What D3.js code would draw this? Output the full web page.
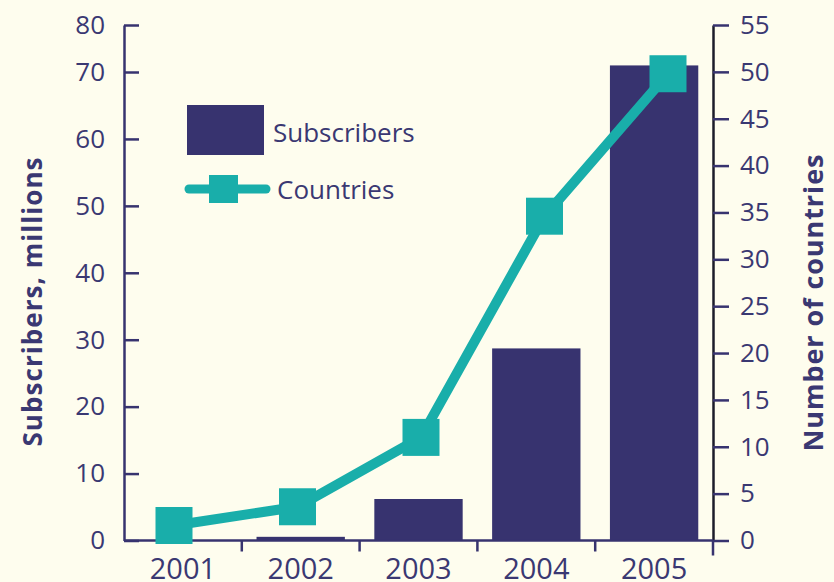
<!DOCTYPE html>
<html>
<head>
<meta charset="utf-8">
<script src="https://cdn.jsdelivr.net/npm/d3@7"></script>
<style>
  body { margin: 0; background: #fefdee; }
  svg { display: block; font-family: "Open Sans", sans-serif; }
</style>
</head>
<body>
<svg id="chart" width="834" height="582"></svg>
<script>
// data
var years = [2001, 2002, 2003, 2004, 2005];
var subscribers = [0, 0.55, 6.2, 28.7, 71.4];   // millions (bars, left axis)
var countries = [1.6, 3.6, 11, 34.6, 49.8];     // number of countries (line, right axis)
var leftTicks = [0, 10, 20, 30, 40, 50, 60, 70, 80];
var rightTicks = [0, 5, 10, 15, 20, 25, 30, 35, 40, 45, 50, 55];

var navy = "#37336f",
    teal = "#19aeaa",
    textCol = "#3a3872";

var svg = d3.select("#chart");

var plotLeft = 124, plotRight = 713, plotBottom = 540.5, plotTop = 25;

var x = d3.scaleBand()
    .domain(years)
    .range([plotLeft, plotRight])
    .paddingInner(0.25)
    .paddingOuter(0.125);

// the line's points don't sit on the band centres in the original
var xLine = d3.scaleLinear().domain([2001, 2005]).range([174, 668]);

// left axis is squeezed between 70 and 80
var yL = d3.scaleLinear().domain([0, 70, 80]).range([plotBottom, 72, plotTop]);
var yR = d3.scaleLinear().domain([0, 55]).range([plotBottom, plotTop]);

// bars
svg.append("g")
    .selectAll("rect")
    .data(years)
    .enter()
    .append("rect")
    .attr("x", d => x(d))
    .attr("width", x.bandwidth())
    .attr("y", (d, i) => yL(subscribers[i]))
    .attr("height", (d, i) => plotBottom - yL(subscribers[i]))
    .attr("fill", navy);

// left axis
var gL = svg.append("g")
    .attr("transform", "translate(" + plotLeft + ",0)")
    .call(d3.axisLeft(yL).tickValues(leftTicks).tickSizeInner(-15).tickSizeOuter(0).tickPadding(19));
gL.attr("font-family", null).attr("font-size", null);
gL.select(".domain").attr("stroke", navy).attr("stroke-width", 2.5);
gL.selectAll(".tick line").attr("stroke", navy).attr("stroke-width", 2.5);
gL.selectAll(".tick text").attr("fill", textCol).style("font-size", "26px");

// right axis
var gR = svg.append("g")
    .attr("transform", "translate(" + plotRight + ",0)")
    .call(d3.axisRight(yR).tickValues(rightTicks).tickSizeInner(16).tickSizeOuter(0).tickPadding(11));
gR.attr("font-family", null).attr("font-size", null);
gR.select(".domain").attr("stroke", "#1c1c2a").attr("stroke-width", 2.5);
gR.selectAll(".tick line").attr("stroke", navy).attr("stroke-width", 2.5);
gR.selectAll(".tick text").attr("fill", textCol).style("font-size", "26px");

// bottom axis: labels under bars, ticks at band edges
var gX = svg.append("g")
    .attr("transform", "translate(0," + plotBottom + ")")
    .call(d3.axisBottom(x).tickSize(0).tickPadding(18));
gX.attr("font-family", null).attr("font-size", null);
gX.select(".domain").remove();
gX.selectAll(".tick text").attr("fill", textCol).style("font-size", "29px");

svg.append("line")
    .attr("x1", plotLeft).attr("x2", plotRight)
    .attr("y1", plotBottom).attr("y2", plotBottom)
    .attr("stroke", navy).attr("stroke-width", 2.5);

var gap = (x.step() - x.bandwidth()) / 2;
svg.append("g")
    .selectAll("line")
    .data(years)
    .enter()
    .append("line")
    .attr("x1", d => x(d) + x.bandwidth() + gap)
    .attr("x2", d => x(d) + x.bandwidth() + gap)
    .attr("y1", plotBottom)
    .attr("y2", (d, i) => i == years.length - 1 ? plotBottom + 15 : plotBottom + 11)
    .attr("stroke", navy)
    .attr("stroke-width", 2.5);

// countries line
var line = d3.line()
    .x((d, i) => xLine(years[i]))
    .y(d => yR(d));

svg.append("path")
    .datum(countries)
    .attr("d", line)
    .attr("fill", "none")
    .attr("stroke", teal)
    .attr("stroke-width", 10)
    .attr("stroke-linejoin", "round");

var m = 37;
svg.append("g")
    .selectAll("rect")
    .data(countries)
    .enter()
    .append("rect")
    .attr("x", (d, i) => xLine(years[i]) - m / 2)
    .attr("y", d => yR(d) - m / 2)
    .attr("width", m)
    .attr("height", m)
    .attr("fill", teal);

// axis titles
svg.append("text")
    .attr("transform", "translate(42,302) rotate(-90)")
    .attr("text-anchor", "middle")
    .attr("fill", textCol)
    .attr("textLength", 289)
    .attr("lengthAdjust", "spacing")
    .style("font-size", "26px")
    .style("font-weight", "bold")
    .text("Subscribers, millions");

svg.append("text")
    .attr("transform", "translate(823,303) rotate(-90)")
    .attr("text-anchor", "middle")
    .attr("fill", textCol)
    .attr("textLength", 297)
    .attr("lengthAdjust", "spacing")
    .style("font-size", "27px")
    .style("font-weight", "bold")
    .text("Number of countries");

// legend
var lg = svg.append("g");
lg.append("rect")
    .attr("x", 187).attr("y", 105)
    .attr("width", 77).attr("height", 50)
    .attr("fill", navy);
lg.append("text")
    .attr("x", 273).attr("y", 142)
    .attr("fill", textCol)
    .style("font-size", "26px")
    .text("Subscribers");

lg.append("line")
    .attr("x1", 189).attr("x2", 266)
    .attr("y1", 189).attr("y2", 189)
    .attr("stroke", teal)
    .attr("stroke-width", 9)
    .attr("stroke-linecap", "round");
lg.append("rect")
    .attr("x", 209).attr("y", 175)
    .attr("width", 29).attr("height", 28)
    .attr("fill", teal);
lg.append("text")
    .attr("x", 277).attr("y", 199)
    .attr("fill", textCol)
    .style("font-size", "26px")
    .text("Countries");
</script>
</body>
</html>
